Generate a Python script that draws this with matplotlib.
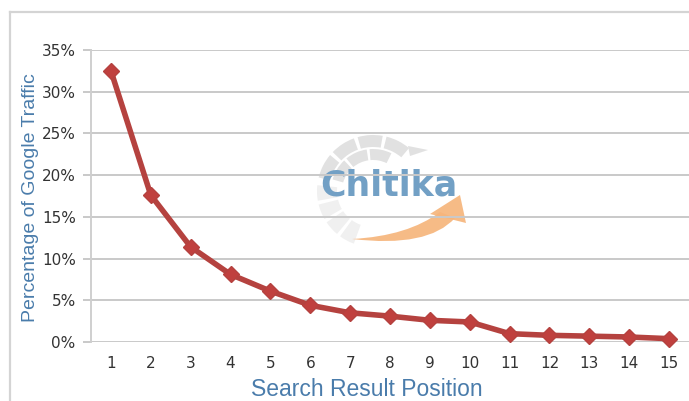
import matplotlib
matplotlib.use("Agg")
import matplotlib.pyplot as plt
from matplotlib.patches import Wedge, Polygon, PathPatch
from matplotlib.path import Path
from matplotlib.lines import Line2D
import numpy as np

positions = list(range(1, 16))
traffic_share = [32.5, 17.6, 11.4, 8.1, 6.1, 4.4, 3.5, 3.1, 2.6, 2.4, 1.0, 0.8, 0.7, 0.6, 0.4]
y_ticks = [0, 5, 10, 15, 20, 25, 30, 35]
y_tick_labels = ["0%", "5%", "10%", "15%", "20%", "25%", "30%", "35%"]
x_label = "Search Result Position"
y_label = "Percentage of Google Traffic"
logo_text = "Chitika"

W, H = 689, 401
fig = plt.figure(figsize=(W / 100, H / 100), dpi=100)
fig.patch.set_facecolor("white")

def fx(px):
    return px / W

def fy(py):
    return 1 - py / H

# outer frame (top and left edges visible)
frame_c = "#d4d4d4"
fig.add_artist(Line2D([fx(10), fx(10)], [0, fy(12)], color=frame_c, lw=1.6,
                      transform=fig.transFigure))
fig.add_artist(Line2D([fx(10), 1], [fy(12), fy(12)], color=frame_c, lw=1.6,
                      transform=fig.transFigure))

# watermark logo (behind the plot), drawn in a pixel-unit inset
lx0, ly0, lx1, ly1 = 300, 100, 480, 260
lax = fig.add_axes([fx(lx0), fy(ly1), fx(lx1 - lx0), fy(ly0) - fy(ly1)], zorder=0)
lax.set_xlim(0, lx1 - lx0)
lax.set_ylim(0, ly1 - ly0)
lax.set_aspect("equal")
lax.axis("off")

def P(px, py):
    return (px - lx0, ly1 - py)

cx, cy = P(373, 191)
tile_c = "#e1e1e1"
# globe tiles across the upper part of the sphere
rows = [(44, 56, 48, 168, 4), (31, 42, 62, 166, 3)]
for r0, r1, a0, a1, n in rows:
    edges = np.linspace(a0, a1, n + 1)
    for a, b in zip(edges[:-1], edges[1:]):
        lax.add_patch(Wedge((cx, cy), r1, a + 2, b - 2, width=r1 - r0,
                            facecolor=tile_c, edgecolor="none"))
# tapering tail of the top row
lax.add_patch(Polygon([P(408, 146), P(428, 150), P(410, 156)], closed=True,
                      facecolor=tile_c, edgecolor="none"))
# faint lower-left part of the sphere
for a in np.arange(172, 252, 20):
    lax.add_patch(Wedge((cx, cy), 56, a + 2, a + 18, width=20,
                        facecolor="#f0f0f0", edgecolor="none"))

# orange swoosh with arrowhead
sw_c = "#f6b57c"
verts = [P(352, 239), P(428, 248), P(455, 218),
         P(440, 212), P(408, 236), P(352, 239), P(352, 239)]
codes = [Path.MOVETO, Path.CURVE3, Path.CURVE3,
         Path.LINETO, Path.CURVE3, Path.CURVE3, Path.CLOSEPOLY]
lax.add_patch(PathPatch(Path(verts, codes), facecolor=sw_c, edgecolor="none",
                        alpha=0.92))
lax.add_patch(Polygon([P(430, 214), P(466, 223), P(460, 195)], closed=True,
                      facecolor=sw_c, edgecolor="none", alpha=0.92))

tx, ty = P(389, 186)
lax.text(tx, ty, logo_text, fontsize=25, fontweight="bold", color="#72a0c5",
         family="DejaVu Sans", ha="center", va="center")

# main plot area
ax_l, ax_r, ax_t, ax_b = 91, 689, 50, 342
ax = fig.add_axes([fx(ax_l), fy(ax_b), fx(ax_r - ax_l), fy(ax_t) - fy(ax_b)], zorder=1)
ax.patch.set_alpha(0)
ax.set_xlim(0.5, 15.5)
ax.set_ylim(0, 35)
ax.set_yticks(y_ticks)
ax.set_yticklabels(y_tick_labels)
ax.set_xticks(positions)
ax.set_xticklabels([str(p) for p in positions])

grid_c = "#c9c9c9"
ax.yaxis.grid(True, color=grid_c, lw=1.4)
ax.set_axisbelow(True)
for s in ["top", "right", "bottom"]:
    ax.spines[s].set_visible(False)
ax.spines["left"].set_color("#cfcfcf")
ax.spines["left"].set_linewidth(1.4)
ax.tick_params(axis="y", length=6, width=1.4, color=grid_c, labelsize=11,
               labelcolor="#333333", pad=5)
ax.tick_params(axis="x", length=0, labelsize=11, labelcolor="#333333", pad=10)

ax.plot(positions, traffic_share, color="#b5423f", lw=4.0, marker="D",
        markersize=8, markerfacecolor="#c0403e", markeredgecolor="#b5423f",
        solid_joinstyle="round", zorder=5, clip_on=False)

label_c = "#4a7cab"
fig.text(fx(367), fy(389), x_label, fontsize=16.5, color=label_c,
         family="Liberation Sans", ha="center", va="center")
fig.text(fx(31), fy(198), y_label, fontsize=14, color=label_c,
         family="Liberation Sans", ha="center", va="center", rotation=90)

fig.savefig("out.png", dpi=100, facecolor="white")
